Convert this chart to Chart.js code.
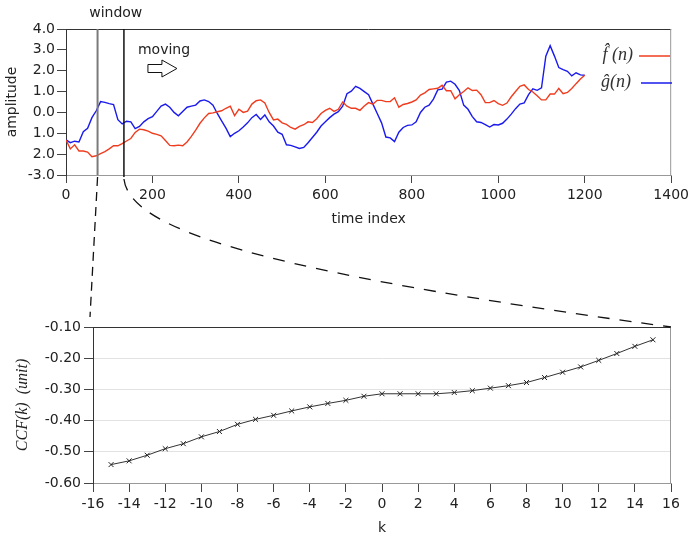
<!DOCTYPE html>
<html>
<head>
<meta charset="utf-8">
<script src="https://cdn.jsdelivr.net/npm/chart.js@4/dist/chart.umd.min.js"></script>
<style>
    html, body { margin: 0; padding: 0; background: #fff; }
    #page { position: relative; width: 693px; height: 537px; overflow: hidden; }
    #signal-wrap { position: absolute; left: 0; top: 0; }
    #ccf-wrap { position: absolute; left: 0; top: 290px; }
    #overlay { position: absolute; left: 0; top: 0; pointer-events: none; }
</style>
</head>
<body>
<div id="page">
    <div id="signal-wrap"><canvas id="signal-canvas" width="693" height="230"></canvas></div>
    <div id="ccf-wrap"><canvas id="ccf-canvas" width="693" height="247"></canvas></div>
    <canvas id="overlay" width="693" height="537"></canvas>
</div>
<script>
// time axis of both signals
const timeIndex = [
    0, 10, 20, 30, 40, 50, 60, 70, 80, 90, 100, 110, 120, 130, 140, 150, 160, 170, 180, 190,
    200, 210, 220, 230, 240, 250, 260, 270, 280, 290, 300, 310, 320, 330, 340, 350, 360, 370, 380, 390,
    400, 410, 420, 430, 440, 450, 460, 470, 480, 490, 500, 510, 520, 530, 540, 550, 560, 570, 580, 590,
    600, 610, 620, 630, 640, 650, 660, 670, 680, 690, 700, 710, 720, 730, 740, 750, 760, 770, 780, 790,
    800, 810, 820, 830, 840, 850, 860, 870, 880, 890, 900, 910, 920, 930, 940, 950, 960, 970, 980, 990,
    1000, 1010, 1020, 1030, 1040, 1050, 1060, 1070, 1080, 1090, 1100, 1110, 1120, 1130, 1140, 1150, 1160, 1170, 1180, 1190,
    1200,
];

// f^(n), red
const fValues = [
    -1.32, -1.75, -1.55, -1.85, -1.85, -1.90, -2.12, -2.08, -1.97, -1.88, -1.75, -1.60, -1.60, -1.50, -1.37, -1.25, -0.96, -0.80, -0.83, -0.90,
    -1.00, -1.05, -1.12, -1.35, -1.58, -1.60, -1.57, -1.60, -1.42, -1.15, -0.85, -0.52, -0.26, -0.05, -0.02, 0.03, 0.08, 0.20, 0.30, -0.15,
    0.15, 0.00, 0.06, 0.40, 0.56, 0.60, 0.45, 0.00, -0.36, -0.32, -0.50, -0.57, -0.72, -0.80, -0.67, -0.59, -0.45, -0.48, -0.30, -0.05,
    0.10, 0.20, 0.05, 0.15, 0.50, 0.30, 0.20, 0.20, 0.10, 0.31, 0.47, 0.40, 0.58, 0.58, 0.52, 0.52, 0.70, 0.25, 0.38, 0.43,
    0.50, 0.60, 0.83, 0.94, 1.10, 1.13, 1.16, 1.30, 1.04, 1.04, 0.65, 0.85, 1.00, 1.18, 1.05, 1.07, 0.85, 0.47, 0.47, 0.57,
    0.42, 0.34, 0.45, 0.75, 1.00, 1.25, 1.32, 1.10, 0.98, 0.80, 0.60, 0.60, 0.88, 0.88, 1.15, 0.90, 0.96, 1.15, 1.38, 1.60,
    1.78,
];

// g^(n), blue
const gValues = [
    -1.32, -1.45, -1.38, -1.42, -0.92, -0.76, -0.25, 0.08, 0.52, 0.48, 0.42, 0.38, -0.35, -0.55, -0.42, -0.45, -0.78, -0.67, -0.45, -0.30,
    -0.20, 0.05, 0.30, 0.40, 0.25, 0.00, -0.16, 0.05, 0.25, 0.30, 0.35, 0.55, 0.60, 0.52, 0.35, -0.05, -0.40, -0.75, -1.16, -1.00,
    -0.88, -0.70, -0.50, -0.25, -0.10, -0.34, -0.12, -0.45, -0.65, -0.95, -1.05, -1.55, -1.58, -1.65, -1.73, -1.68, -1.45, -1.20, -0.95, -0.65,
    -0.45, -0.25, -0.08, 0.04, 0.30, 0.90, 1.02, 1.25, 1.15, 1.00, 0.85, 0.40, -0.05, -0.50, -1.18, -1.22, -1.40, -0.95, -0.72, -0.62,
    -0.60, -0.45, 0.00, 0.25, 0.35, 0.64, 1.08, 1.12, 1.45, 1.50, 1.35, 1.05, 0.35, 0.15, -0.20, -0.45, -0.48, -0.58, -0.70, -0.58,
    -0.60, -0.52, -0.32, -0.08, 0.18, 0.40, 0.46, 0.85, 1.13, 1.06, 1.18, 2.70, 3.20, 2.70, 2.15, 2.05, 1.97, 1.75, 1.90, 1.80,
    1.78,
];

const amplitudeTicks = [-3, -2, -1, 0, 1, 2, 3, 4];
const amplitudeTickLabels = ['-3.0', '2.0', '1.0', '0.0', '1.0', '2.0', '3.0', '4.0'];
const windowStart = 73;
const windowEnd = 134;

// cross correlation over the window
const lags = [-15, -14, -13, -12, -11, -10, -9, -8, -7, -6, -5, -4, -3, -2, -1, 0, 1, 2, 3, 4, 5, 6, 7, 8, 9, 10, 11, 12, 13, 14, 15];
const ccfValues = [
    -0.541, -0.529, -0.511, -0.490, -0.474, -0.452, -0.435, -0.412, -0.396, -0.383, -0.369, -0.356, -0.345, -0.335, -0.322, -0.314,
    -0.314, -0.314, -0.314, -0.310, -0.304, -0.296, -0.288, -0.278, -0.262, -0.245, -0.228, -0.207, -0.185, -0.162, -0.141,
];

const sansFont = { family: '"DejaVu Sans", sans-serif', size: 14 };
const textColor = '#222';

function toPoints(xs, ys) {
    return xs.map((x, i) => ({ x, y: ys[i] }));
}

const framePlugin = {
    id: 'frame',
    afterDatasetsDraw(chart) {
        const { ctx, chartArea: a } = chart;
        ctx.save();
        ctx.lineWidth = 1;
        ctx.strokeStyle = '#333';
        ctx.beginPath();
        ctx.moveTo(a.left, a.top + 0.5);
        ctx.lineTo(a.right, a.top + 0.5);
        ctx.stroke();
        ctx.strokeStyle = '#999';
        ctx.beginPath();
        ctx.moveTo(a.right - 0.5, a.top);
        ctx.lineTo(a.right - 0.5, a.bottom);
        ctx.stroke();
        ctx.restore();
    },
};

const signalPlugin = {
    id: 'signalNotes',
    afterDatasetsDraw(chart) {
        const { ctx, chartArea: a, scales: { x } } = chart;
        const xs = x.getPixelForValue(windowStart);
        const xe = x.getPixelForValue(windowEnd);
        ctx.save();

        ctx.strokeStyle = '#7a7a7a';
        ctx.lineWidth = 2;
        ctx.beginPath();
        ctx.moveTo(xs, a.top);
        ctx.lineTo(xs, a.bottom);
        ctx.stroke();
        ctx.strokeStyle = '#111';
        ctx.lineWidth = 1.5;
        ctx.beginPath();
        ctx.moveTo(xe, a.top);
        ctx.lineTo(xe, a.bottom + 2);
        ctx.stroke();

        ctx.fillStyle = textColor;
        ctx.font = '14px "DejaVu Sans", sans-serif';
        ctx.textBaseline = 'middle';
        ctx.textAlign = 'center';
        ctx.fillText('window', (xs + xe) / 2 + 5, 13);
        ctx.textAlign = 'left';
        ctx.fillText('moving', xe + 14, 50);

        // outline arrow
        const ax = xe + 24;
        const ay = 68.5;
        ctx.strokeStyle = '#111';
        ctx.lineWidth = 1;
        ctx.beginPath();
        ctx.moveTo(ax, ay - 4);
        ctx.lineTo(ax + 14, ay - 4);
        ctx.lineTo(ax + 14, ay - 8.5);
        ctx.lineTo(ax + 29, ay);
        ctx.lineTo(ax + 14, ay + 8.5);
        ctx.lineTo(ax + 14, ay + 4);
        ctx.lineTo(ax, ay + 4);
        ctx.closePath();
        ctx.stroke();

        // legend
        ctx.font = 'italic 18px "Liberation Serif", serif';
        ctx.textAlign = 'right';
        chart.data.datasets.forEach((ds, i) => {
            const y = 56 + i * 27;
            ctx.fillStyle = '#333';
            ctx.fillText(ds.label, 633 - i * 2, y - 1);
            ctx.strokeStyle = ds.borderColor;
            ctx.lineWidth = 1.5;
            ctx.beginPath();
            ctx.moveTo(639 + i * 2, y);
            ctx.lineTo(670 + i * 2, y);
            ctx.stroke();
        });
        ctx.restore();
    },
};

const signalChart = new Chart(document.getElementById('signal-canvas'), {
    type: 'line',
    data: {
        datasets: [
            {
                label: 'f\u0302 (n)',
                data: toPoints(timeIndex, fValues),
                borderColor: '#f03c1e',
                borderWidth: 1.4,
                pointRadius: 0,
                tension: 0,
            },
            {
                label: 'g\u0302(n)',
                data: toPoints(timeIndex, gValues),
                borderColor: '#1a1aee',
                borderWidth: 1.4,
                pointRadius: 0,
                tension: 0,
            },
        ],
    },
    options: {
        responsive: false,
        animation: false,
        events: [],
        layout: { padding: { top: 29, right: 18, left: 0, bottom: 0 } },
        plugins: { legend: { display: false }, tooltip: { enabled: false } },
        scales: {
            x: {
                type: 'linear',
                min: 0,
                max: 1400,
                afterFit: (scale) => { scale.height = 55; },
                ticks: { stepSize: 200, color: textColor, font: sansFont, padding: 4, maxRotation: 0, callback: (value) => String(value) },
                grid: { drawOnChartArea: false, tickLength: 8, tickColor: '#444' },
                border: { color: '#999' },
                title: { display: true, text: 'time index', color: textColor, font: sansFont, padding: { top: 0, bottom: 2 } },
            },
            y: {
                min: -3,
                max: 4,
                afterFit: (scale) => { scale.width = 66; },
                afterBuildTicks: (scale) => { scale.ticks = amplitudeTicks.map((value) => ({ value })); },
                ticks: { color: textColor, font: sansFont, padding: 2, callback: (value, index) => amplitudeTickLabels[index] },
                grid: { drawOnChartArea: false, tickLength: 9, tickColor: '#444' },
                border: { color: '#333' },
                title: { display: true, text: 'amplitude', color: textColor, font: sansFont, padding: { top: 4, bottom: 0 } },
            },
        },
    },
    plugins: [framePlugin, signalPlugin],
});

const ccfChart = new Chart(document.getElementById('ccf-canvas'), {
    type: 'line',
    data: {
        datasets: [
            {
                label: 'CCF',
                data: toPoints(lags, ccfValues),
                borderColor: '#333',
                borderWidth: 1,
                pointStyle: 'crossRot',
                pointRadius: 3.5,
                pointBorderColor: '#222',
                pointBorderWidth: 1,
                tension: 0,
            },
        ],
    },
    options: {
        responsive: false,
        animation: false,
        events: [],
        layout: { padding: { top: 37, right: 22, left: 0, bottom: 0 } },
        plugins: { legend: { display: false }, tooltip: { enabled: false } },
        scales: {
            x: {
                type: 'linear',
                min: -16,
                max: 16,
                afterFit: (scale) => { scale.height = 54; },
                ticks: { stepSize: 2, color: textColor, font: sansFont, padding: 4, maxRotation: 0 },
                grid: { drawOnChartArea: false, tickLength: 9, tickColor: '#444' },
                border: { color: '#999' },
                title: { display: true, text: 'k', color: textColor, font: sansFont, padding: { top: 0, bottom: 0 } },
            },
            y: {
                min: -0.6,
                max: -0.1,
                afterFit: (scale) => { scale.width = 93; },
                ticks: { stepSize: 0.1, color: textColor, font: sansFont, padding: 3, callback: (value) => value.toFixed(2) },
                grid: { color: '#e2e2e2', tickLength: 9, tickColor: '#444' },
                border: { color: '#333' },
                title: {
                    display: true,
                    text: 'CCF(k)  (unit)',
                    color: textColor,
                    font: { family: '"Liberation Serif", serif', size: 16, style: 'italic' },
                    padding: { top: 13, bottom: 0 },
                },
            },
        },
    },
    plugins: [framePlugin],
});

function drawConnectors() {
    const ctx = document.getElementById('overlay').getContext('2d');
    const topArea = signalChart.chartArea;
    const bottomArea = ccfChart.chartArea;
    const offsetTop = document.getElementById('ccf-wrap').offsetTop;
    const xs = signalChart.scales.x.getPixelForValue(windowStart);
    const xe = signalChart.scales.x.getPixelForValue(windowEnd);

    ctx.strokeStyle = '#111';
    ctx.lineWidth = 1.3;
    ctx.setLineDash([9, 6]);
    ctx.beginPath();
    ctx.moveTo(xs, topArea.bottom + 2);
    ctx.lineTo(bottomArea.left - 3, offsetTop + bottomArea.top - 10);
    ctx.stroke();

    ctx.setLineDash([12, 10]);
    ctx.beginPath();
    ctx.moveTo(xe, topArea.bottom + 4);
    ctx.bezierCurveTo(xe + 6, topArea.bottom + 53, xe + 126, topArea.bottom + 95, bottomArea.right, offsetTop + bottomArea.top);
    ctx.stroke();
}

drawConnectors();
</script>
</body>
</html>
